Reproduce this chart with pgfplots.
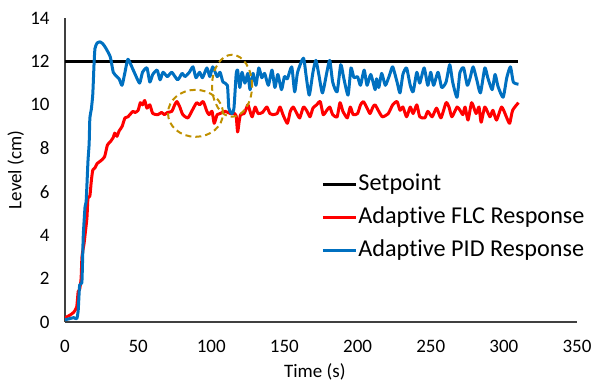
\documentclass[border=0pt]{standalone}
\usepackage{fontspec}
\setmainfont{Carlito}[Ligatures=NoCommon]
\usepackage{pgfplots}
\pgfplotsset{compat=1.18}
\definecolor{pidblue}{RGB}{0,112,192}
\definecolor{circgold}{RGB}{191,144,0}
\begin{document}
\begin{tikzpicture}[font=\fontsize{9.5pt}{11pt}\selectfont]
\begin{axis}[
  scale only axis,
  width=256pt, height=152pt,
  at={(0,0)}, anchor=south west,
  xmin=0, xmax=350, ymin=0, ymax=14,
  xtick={0,50,...,350}, ytick={0,2,...,14},
  axis x line=bottom, axis y line=left,
  axis line style={-, black!75, line width=0.6pt},
  major tick length=0pt,
  /pgf/number format/assume math mode=true,
  yticklabel style={inner sep=0pt, xshift=-7.5pt},
  xticklabel style={inner sep=0pt, yshift=-9pt},
  xlabel={Time (s)}, ylabel={Level (cm)},
  xlabel style={at={(axis description cs:0.488,0)}, anchor=center, yshift=-25pt},
  ylabel style={at={(axis description cs:-0.096,0.5)}, anchor=center, rotate=0},
  legend style={draw=none, fill=none, at={(axis description cs:0.5,0.345)}, anchor=west,
    font=\fontsize{12.1pt}{13.5pt}\selectfont,
    inner sep=0pt, row sep=4.3pt, nodes={inner sep=0.5pt, text height=8.7pt, text depth=2.5pt}},
  legend cell align=left,
  legend image code/.code={\draw[#1] (0pt,0pt) -- (16.5pt,0pt);},
  every axis plot/.append style={line width=1.5pt, line join=round},
]
\addplot[black, no markers] coordinates {(0,12) (310,12)};
\addlegendentry{Setpoint}
\addplot[red, no markers, smooth, tension=0.35] coordinates {
(0,0.2) (3,0.3) (6,0.45) (8,0.7) (9,1.4) (10,1.5) (11,2.0) (11.6,3.0) (13,3.6) (13.7,4.0)
(15,4.8) (15.7,5.7) (17,5.8) (18,6.5) (19,7.0) (20.5,7.1) (22,7.3) (24,7.4) (27,7.6) (29,8.15)
(31,8.3) (33,8.5) (34,8.7) (35.5,8.55) (37,8.8) (39,9.0) (41,9.4) (43,9.45) (45,9.6) (46.5,9.7)
(48,9.65) (50,9.75) (51.5,10.1) (53,10.0) (54.5,10.2) (56,9.85) (58,10.0) (60,9.6) (63.5,9.55)
(66,9.65) (68,9.55) (70,9.65) (73,9.7) (75,10.0) (76.5,10.15) (78.5,9.9) (80.5,9.55) (84,9.4)
(87,9.75) (90,10.1) (92,10.0) (94.5,10.15) (97,9.7) (98.5,9.55) (100.5,9.7) (102,9.15) (104,9.55)
(106,9.6) (109.5,9.7) (113,9.6) (116,9.6) (117,9.5) (118,8.75) (119,9.2) (120,9.55) (122.5,9.6)
(125,10.0) (126.5,9.7) (128,9.45) (130,9.9) (132,9.6) (135,9.65) (138,9.9) (140,9.6) (142,9.55)
(145,9.6) (147,9.9) (149,9.55) (152,9.15) (154,9.7) (156,9.9) (158.5,9.6) (160.5,9.4) (163,9.9)
(165.5,9.7) (167.5,9.45) (169.5,9.85) (172,10.0) (174.5,10.15) (176.5,9.55) (179,9.75) (181,9.9)
(183,9.55) (186,9.45) (188,10.1) (190,9.7) (193,9.4) (195,9.9) (197,9.55) (200,9.6) (202,10.0)
(204,10.15) (206.5,9.85) (208.5,9.6) (210.5,9.9) (212,10.0) (214.5,9.7) (217,9.45) (221,9.6)
(224,10.0) (227,10.15) (229,9.75) (231,9.9) (233.5,9.45) (236,9.9) (238,9.6) (240.5,10.0)
(242.5,9.45) (246,9.4) (248,9.7) (251,9.45) (254,9.85) (257,9.4) (260.5,10.1) (262.5,9.9)
(264.5,9.45) (268,9.9) (270,9.75) (272,9.55) (273.5,9.9) (275.5,9.3) (278,10.1) (281,9.6)
(283,9.9) (284.5,9.2) (287,9.9) (290.5,9.45) (292.5,9.75) (295,9.3) (298.5,9.9) (302,9.4)
(304,9.15) (306,9.75) (310,10.1)
};
\addlegendentry{Adaptive FLC Response}
\addplot[pidblue, no markers, smooth, tension=0.35] coordinates {
(0,0.1) (3,0.15) (6,0.2) (8,0.15) (9,0.5) (10,1.7) (11.5,1.8) (12,2.8) (12.5,4.0) (13.7,5.3)
(14.5,5.6) (15.7,7.4) (16.5,8.2) (17,9.4) (18,9.8) (19,10.5) (19.8,11.8) (20.5,12.6) (22,12.85)
(24,12.9) (26,12.8) (28,12.6) (31,12.2) (33,11.5) (35.5,11.3) (37,11.2) (39,10.9) (41,11.5)
(43,12.1) (46,11.7) (48,11.4) (51,11.0) (53,11.5) (56,11.7) (58,11.05) (60,11.4) (63,11.6)
(65,11.15) (67,11.5) (70,11.3) (73,11.5) (77,11.15) (80,11.45) (82,11.3) (85,11.5) (87.5,11.75)
(89.5,11.25) (92,11.5) (94,11.25) (97,11.7) (99,11.3) (101,11.75) (104,11.3) (106,11.5)
(108,11.05) (111,10.9) (112,9.85) (114,9.6) (115.5,9.85) (117,11.4) (118,11.6) (119.5,10.8)
(121,11.5) (123,11.0) (125,11.45) (126.5,10.7) (128.5,11.45) (130.5,10.9) (132.5,11.7)
(134.5,11.25) (136.5,11.45) (139,10.9) (141.5,11.6) (143.5,10.8) (145.5,11.4) (148,10.7)
(150,11.3) (152,11.2) (155,11.75) (157,10.6) (159,11.5) (163,12.15) (165,11.25) (167,10.45)
(169.5,11.5) (171.5,12.05) (173.5,11.4) (176,10.55) (179,11.5) (181,12.05) (183,11.05) (186,10.6)
(188.5,11.85) (190.5,11.25) (193.5,10.45) (195.5,11.7) (197.5,11.25) (200,11.3) (202,10.9)
(204.5,11.6) (206.5,10.9) (209,11.4) (212,10.7) (213,11.2) (214.5,10.8) (216.5,11.45) (219,10.9)
(222,11.4) (224,11.75) (227,11.05) (229,10.55) (231,11.4) (233.5,11.7) (236,10.9) (238,10.6)
(240.5,11.5) (242.5,11.0) (245.5,11.7) (248,10.9) (250,11.5) (252,10.9) (255,11.5) (257.5,10.8)
(260.5,11.05) (263,11.85) (265,11.05) (268,10.35) (270,11.5) (272.5,11.7) (275,10.9) (277,11.25)
(279,11.75) (281.5,11.15) (284,10.55) (287,11.7) (289,11.25) (292,10.7) (294,11.4) (296,10.85)
(299.5,10.35) (302,11.25) (304.5,11.75) (306.5,11.05) (310,10.95)
};
\addlegendentry{Adaptive PID Response}
\draw[circgold, line width=1pt, dash pattern=on 3pt off 2pt] (axis cs:89.2,9.61) ellipse [x radius=13.75pt, y radius=11.75pt];
\draw[circgold, line width=1pt, dash pattern=on 3pt off 2pt] (axis cs:114.2,10.88) ellipse [x radius=10pt, y radius=15.5pt];
\end{axis}
\pgfresetboundingbox
\path[use as bounding box] (-32.5pt,-30.5pt) rectangle (267.5pt,161pt);
\end{tikzpicture}
\end{document}
